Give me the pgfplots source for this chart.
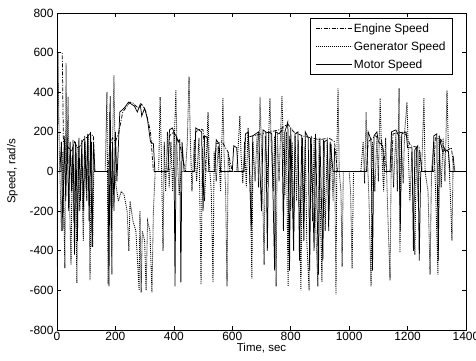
\documentclass[border=0pt]{standalone}
\usepackage{pgfplots}
\pgfplotsset{compat=1.18}
\usepackage{fontspec}
\setmainfont{Liberation Sans}
\begin{document}
\begin{tikzpicture}
\path[use as bounding box] (-57bp,-31bp) rectangle (419bp,330bp);
\begin{axis}[
  at={(0,0)}, anchor=south west,
  scale only axis, width=409bp, height=317bp,
  xmin=0, xmax=1400, ymin=-800, ymax=800,
  xtick={0,200,...,1400}, ytick={-800,-600,...,800},
  tick align=inside, major tick length=4bp,
  axis line style={line width=0.9pt},
  every tick/.style={black, line width=0.7pt},
  ticklabel style={font=\fontsize{12}{14}\selectfont},
  xticklabel style={yshift=1bp},
  /pgf/number format/assume math mode=true,
  /pgf/number format/1000 sep={},
  xlabel={Time, sec}, ylabel={Speed, rad/s},
  label style={font=\fontsize{11.5}{13}\selectfont},
  xlabel style={yshift=5bp},
  ylabel style={yshift=5bp},
  legend cell align=left,
  legend style={at={(1,1)}, anchor=north east, xshift=-13bp, yshift=-5bp,
    font=\fontsize{12}{14}\selectfont, draw=black, line width=0.7pt,
    inner xsep=5bp, inner ysep=3bp, row sep=4bp},
  legend image code/.code={\draw[#1] (0bp,0bp) -- (36bp,0bp);},
]
\addplot[black, line width=0.75pt, dash pattern=on 4bp off 1.5bp on 1bp off 1.5bp] coordinates {
(0,600)(18,600)(22,150)(30,110)(40,120)(50,100)(60,150)(70,120)(80,130)(90,160)(100,170)(112,190)(125,180)(128,0)(175,0)(180,120)(190,170)(200,150)(212,200)(225,300)(240,330)(250,350)(260,345)(270,330)(280,320)(290,340)(305,300)(320,200)(330,0)(380,0)(385,180)(400,200)(420,140)(440,0)(470,0)(475,200)(490,215)(500,210)(510,0)(540,0)(545,140)(565,150)(585,100)(600,0)(640,0)(645,170)(670,180)(700,190)(730,200)(760,210)(790,240)(810,200)(840,180)(870,170)(900,160)(930,170)(950,150)(960,0)(1060,0)(1065,150)(1090,180)(1110,160)(1130,0)(1145,0)(1150,190)(1190,200)(1210,130)(1240,120)(1250,0)(1290,0)(1295,170)(1315,160)(1330,100)(1350,120)(1360,0)(1400,0)
};
\addlegendentry{Engine Speed}
\addplot[black, line width=0.85pt, dash pattern=on 1bp off 1bp] coordinates {
(0,-480)(3,600)(8,100)(15,-300)(20,100)(27,-488)(31,548)(34,50)(38,376)(42,-100)(48,-470)(52,80)(58,-250)(63,150)(68,-563)(72,120)(78,-200)(84,100)(90,-350)(96,150)(102,-150)(108,180)(113,-548)(118,150)(122,-380)(126,0)(165,0)(171,400)(175,-570)(180,300)(184,-100)(188,-520)(191,200)(195,487)(200,-50)(210,-150)(220,-100)(230,-120)(240,-200)(246,-400)(250,-150)(260,-250)(270,-300)(281,-600)(284,-200)(288,-610)(292,-300)(300,-350)(305,-600)(310,-250)(318,-300)(325,-610)(330,-200)(336,0)(348,0)(353,376)(357,100)(363,-400)(367,150)(372,-100)(378,200)(384,-80)(390,150)(396,-100)(402,180)(407,410)(411,100)(418,-120)(425,0)(440,0)(446,150)(452,480)(456,180)(462,-100)(470,160)(478,-50)(486,170)(493,-570)(498,120)(505,-150)(512,100)(517,300)(521,50)(528,-100)(534,-560)(538,100)(545,-50)(552,130)(560,-100)(568,370)(572,80)(577,-80)(582,-580)(586,100)(592,0)(615,0)(620,120)(626,280)(630,80)(636,-60)(642,150)(648,-80)(654,220)(658,100)(662,-100)(667,-540)(671,150)(678,-50)(685,190)(690,-80)(695,376)(699,160)(704,-100)(709,-470)(713,180)(720,-60)(725,200)(729,370)(733,150)(740,-100)(745,180)(750,-580)(754,200)(760,-50)(765,180)(770,380)(774,170)(780,-120)(785,200)(791,-580)(795,180)(800,-200)(805,150)(810,-300)(815,180)(820,-150)(825,160)(830,-250)(835,-600)(840,170)(845,-200)(850,160)(855,-350)(863,-600)(868,170)(875,-250)(880,160)(886,-300)(893,-580)(897,170)(902,-250)(907,-560)(912,160)(918,-300)(925,150)(932,-200)(938,140)(945,-150)(950,120)(955,-620)(958,100)(962,420)(966,0)(972,-100)(976,-480)(980,0)(1000,0)(1005,-100)(1010,-490)(1015,0)(1040,0)(1048,150)(1053,-60)(1058,300)(1062,100)(1068,-150)(1075,-580)(1080,150)(1088,-100)(1095,180)(1100,-50)(1106,370)(1110,150)(1118,-100)(1125,170)(1132,-200)(1140,-550)(1145,180)(1152,-80)(1160,200)(1165,-100)(1171,420)(1174,-410)(1178,180)(1185,-60)(1190,200)(1198,350)(1202,120)(1208,-150)(1215,100)(1220,-200)(1225,-420)(1230,120)(1236,-150)(1242,100)(1248,0)(1256,370)(1260,0)(1270,-100)(1277,-520)(1282,0)(1290,150)(1296,-100)(1304,-520)(1308,180)(1315,-80)(1322,170)(1328,-50)(1335,410)(1340,100)(1346,-100)(1352,-350)(1356,80)(1362,0)(1400,0)
};
\addlegendentry{Generator Speed}
\addplot[black, line width=0.75pt] coordinates {
(0,0)(10,0)(15,150)(20,-300)(25,180)(30,-150)(35,170)(40,-200)(45,150)(50,-100)(55,160)(60,-420)(65,140)(70,-350)(75,170)(80,-150)(85,160)(90,-200)(95,180)(100,-100)(105,190)(110,-250)(115,200)(120,-380)(125,150)(130,0)(175,0)(178,-580)(182,380)(186,-300)(190,150)(195,-200)(200,200)(205,-50)(215,300)(230,320)(245,350)(255,340)(265,330)(275,300)(285,340)(290,280)(300,320)(310,260)(320,150)(330,140)(335,0)(380,0)(385,210)(395,220)(400,200)(404,-580)(408,180)(415,150)(420,160)(424,-560)(428,150)(435,0)(470,0)(475,220)(485,210)(495,200)(500,-200)(505,180)(515,170)(520,0)(540,0)(545,160)(555,140)(560,0)(600,0)(605,130)(615,120)(620,0)(640,0)(645,190)(655,200)(665,-300)(670,180)(680,190)(690,200)(700,-200)(705,210)(715,200)(720,-400)(725,200)(735,190)(745,-500)(748,200)(760,190)(770,210)(775,-300)(780,200)(790,250)(796,-500)(800,220)(810,-400)(815,190)(825,200)(830,-450)(838,180)(845,-350)(850,200)(860,170)(865,-500)(870,180)(880,-400)(885,190)(895,-520)(900,170)(910,-450)(915,150)(925,160)(930,-300)(935,150)(945,0)(1060,0)(1065,200)(1075,160)(1080,-500)(1085,180)(1095,200)(1100,150)(1115,130)(1120,0)(1140,0)(1145,200)(1160,210)(1170,180)(1175,-300)(1180,190)(1195,200)(1200,120)(1215,120)(1220,-400)(1225,110)(1235,130)(1240,-450)(1245,0)(1285,0)(1290,180)(1300,190)(1305,-450)(1310,170)(1320,100)(1330,110)(1340,100)(1345,0)(1400,0)
};
\addlegendentry{Motor Speed}
\end{axis}
\end{tikzpicture}
\end{document}
